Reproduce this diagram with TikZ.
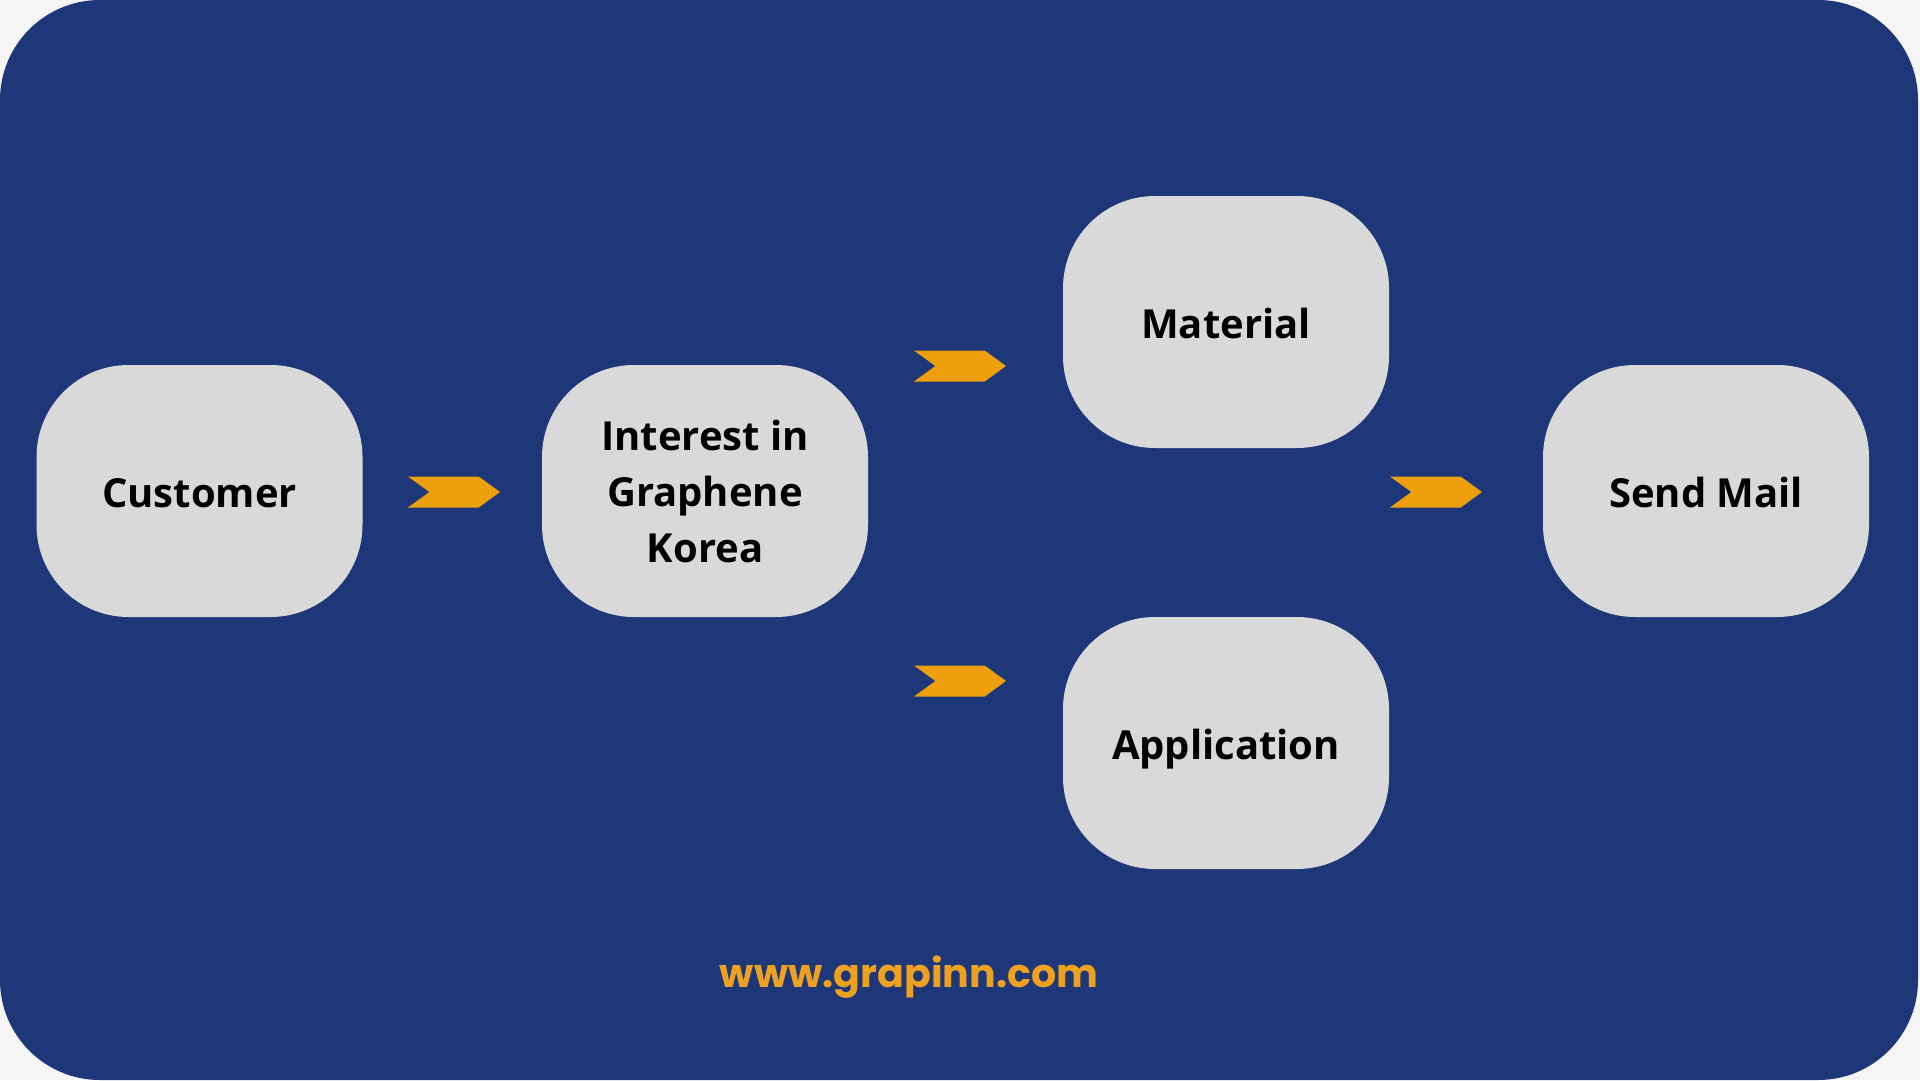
\documentclass[tikz,border=0pt]{standalone}
\usepackage{fontspec}
\setmainfont{Open Sans}
\newfontfamily\urlfont{Poppins}
\usetikzlibrary{shapes.symbols}
\definecolor{bgblue}{RGB}{30,55,120}
\definecolor{pageout}{RGB}{245,245,245}
\definecolor{boxgray}{RGB}{217,217,217}
\definecolor{chev}{RGB}{238,160,12}
\definecolor{urlorange}{RGB}{236,162,32}
\tikzset{
  stepbox/.style={draw=none, fill=boxgray, rounded corners=92pt,
    minimum width=326pt, minimum height=252pt, inner sep=0pt,
    align=center, font=\bfseries\fontsize{40}{56}\selectfont, text=black},
  oneline/.style={text height=33pt, text depth=0pt},
  chevron/.style={shape=signal, signal from=west, signal to=east,
    signal pointer angle=72, fill=chev, draw=none, inner sep=0pt,
    minimum width=92pt, minimum height=31pt}
}
\begin{document}
\begin{tikzpicture}[x=1pt,y=-1pt]
  \fill[pageout] (0,0) rectangle (1920,1080);
  \useasboundingbox (0,0) rectangle (1920,1080);
  \fill[bgblue, rounded corners=100pt] (0,0) rectangle (1918,1080);

  \node[stepbox, oneline] (cust) at (199.5,491) {Customer};
  \node[stepbox] (int) at (705,491) {\raisebox{-1.5pt}{Interest in}\\\raisebox{-1.5pt}{Graphene}\\\raisebox{-1.5pt}{Korea}};
  \node[stepbox, oneline] (mat) at (1226,322) {Material};
  \node[stepbox, oneline] (app) at (1226,743) {Application};
  \node[stepbox, oneline] (mail) at (1706,491) {Send Mail};

  \node[chevron] (c1) at (454,492) {};
  \node[chevron] (c2) at (960,366) {};
  \node[chevron] (c3) at (960,681) {};
  \node[chevron] (c4) at (1436,492) {};

  \node[text=urlorange, font=\urlfont\bfseries\fontsize{39.5}{44}\selectfont] (url) at (909,977) {www.grapinn.com};
\end{tikzpicture}
\end{document}
